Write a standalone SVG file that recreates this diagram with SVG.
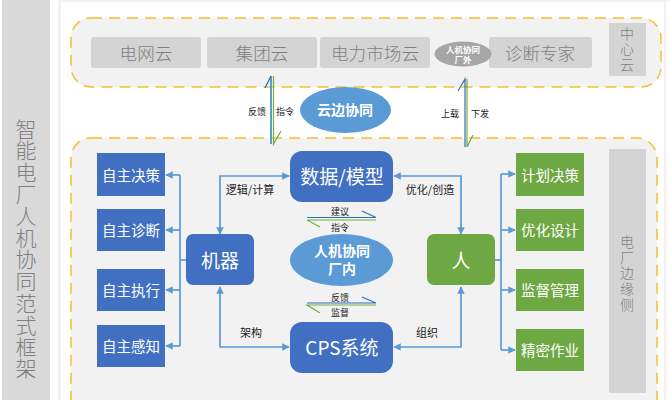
<svg xmlns="http://www.w3.org/2000/svg" width="669" height="400" viewBox="0 0 669 400">
<defs>
<marker id="ah" viewBox="0 0 10 10" refX="9" refY="5" markerWidth="9" markerHeight="7.5" markerUnits="userSpaceOnUse" orient="auto-start-reverse"><path d="M0 0L10 5L0 10Z" fill="#5b9bd5"/></marker>
</defs>
<style>
text{font-family:"Noto Sans CJK SC","Liberation Sans",sans-serif;text-anchor:middle;dominant-baseline:central}
.panel{fill:#f2f2f2;stroke:#f2c12e;stroke-width:1.5;stroke-dasharray:11 7}
.cloud{fill:#d4d4d4}
.gt{fill:#7f7f7f;font-size:17.600px;font-weight:300}
.v{writing-mode:vertical-rl;text-orientation:upright}
.side{fill:#d4d4d4}
.b{fill:#4170c2}.g{fill:#6ea843}
.wt{fill:#fff;font-size:14.500px}
.big{fill:#fff;font-size:19px}
.el{fill:#5b9bd5}
.lb{fill:#222;font-size:9px}
.lm{fill:#222;font-size:11px}
.c{fill:none;stroke:#5b9bd5;stroke-width:1.7}
.hb{fill:none;stroke:#4f93bd;stroke-width:1.8}
.hd{fill:none;stroke:#2f6fb5;stroke-width:1.2}
.hg{fill:none;stroke:#70ad47;stroke-width:1.2}
</style>
<rect width="669" height="400" fill="#fff"/>
<rect x="58" y="0" width="3" height="400" fill="#f2f2f2"/>
<rect x="61" y="0" width="608" height="2" fill="#f2f2f2"/>
<rect x="664" y="0" width="2" height="400" fill="#f2f2f2"/>
<g id="frame-label"><rect x="2" y="0" width="48" height="400" fill="#d9d9d9"/>
<text class="gt v" style="font-size:21px;letter-spacing:0.800px" x="26" y="249">智能电厂人机协同范式框架</text></g>
<g id="panel-cloud"><rect class="panel" x="71" y="18" width="590" height="69" rx="20"/></g>
<g id="panel-edge"><rect class="panel" x="71" y="138" width="586" height="280" rx="20"/></g>
<g id="dianwangyun"><rect class="cloud" x="91" y="37" width="110" height="31" rx="3"/><text class="gt" x="146" y="52">电网云</text></g>
<g id="jituanyun"><rect class="cloud" x="207" y="37" width="110" height="31" rx="3"/><text class="gt" x="262" y="52">集团云</text></g>
<g id="dianlishichang"><rect class="cloud" x="320" y="37" width="110" height="31" rx="3"/><text class="gt" x="375" y="52">电力市场云</text></g>
<g id="zhenduan"><rect class="cloud" x="489" y="37" width="103" height="31" rx="3"/><text class="gt" x="540" y="52">诊断专家</text></g>
<g id="changwai"><ellipse cx="463" cy="54" rx="28.500" ry="12.500" fill="#a6a6a6"/><text x="463" y="49" fill="#fff" font-size="8.500" font-weight="700">人机协同</text><text x="463" y="59" fill="#fff" font-size="8.500" font-weight="700">厂外</text></g>
<g id="center-cloud"><rect class="side" x="609" y="23" width="37" height="53"/><text class="gt v" style="font-size:14px;letter-spacing:1.700px" x="627" y="50">中心云</text></g>
<g id="yunbian"><ellipse class="el" cx="345.500" cy="110" rx="45.500" ry="23"/><text x="345" y="109" fill="#fff" font-size="14" font-weight="700">云边协同</text></g>
<g id="edge-side"><rect class="side" x="609" y="149" width="37" height="244"/><text class="gt v" style="font-size:14px;letter-spacing:1.700px" x="627" y="274">电厂边缘侧</text></g>
<g id="connectors">
<path class="c" d="M186 260H180"/>
<path class="c" d="M180 346V175"/>
<path class="c" d="M180 175H166" marker-end="url(#ah)"/>
<path class="c" d="M180 230H166" marker-end="url(#ah)"/>
<path class="c" d="M180 290H166" marker-end="url(#ah)"/>
<path class="c" d="M180 346H166" marker-end="url(#ah)"/>
<path class="c" d="M495 260H501"/>
<path class="c" d="M501 350V174"/>
<path class="c" d="M501 174H515" marker-end="url(#ah)"/>
<path class="c" d="M501 230H515" marker-end="url(#ah)"/>
<path class="c" d="M501 290H515" marker-end="url(#ah)"/>
<path class="c" d="M501 350H515" marker-end="url(#ah)"/>
<path class="c" d="M220 234V176H289" marker-start="url(#ah)" marker-end="url(#ah)"/>
<path class="c" d="M220 287V347H289" marker-start="url(#ah)" marker-end="url(#ah)"/>
<path class="c" d="M461 234V176H394" marker-start="url(#ah)" marker-end="url(#ah)"/>
<path class="c" d="M461 287V347H394" marker-start="url(#ah)" marker-end="url(#ah)"/>
<path class="hb" d="M271 144V76"/><path class="hd" d="M271 76L265 88"/>
<path class="hg" d="M273.500 76V144L281 131"/>
<path class="hd" d="M465 147V79L458 91"/>
<path class="hg" d="M467 79V147L473 135"/>
<path class="hd" d="M307 217.500H376L362 211"/>
<path class="hg" d="M376 220H307L320 227"/>
<path class="hd" d="M307 303H376L362 297"/>
<path class="hg" d="M376 305H307L320 313"/>
</g>
<g id="zizhu1"><rect class="b" x="97" y="153" width="68" height="43"/><text class="wt" x="131" y="174">自主决策</text></g>
<g id="zizhu2"><rect class="b" x="97" y="209" width="68" height="42"/><text class="wt" x="131" y="229">自主诊断</text></g>
<g id="zizhu3"><rect class="b" x="97" y="269" width="68" height="42"/><text class="wt" x="131" y="289">自主执行</text></g>
<g id="zizhu4"><rect class="b" x="97" y="325" width="68" height="42"/><text class="wt" x="131" y="345">自主感知</text></g>
<g id="jiqi"><rect class="b" x="186" y="234" width="68" height="51" rx="7"/><text class="big" x="220" y="259">机器</text></g>
<g id="shuju"><rect class="b" x="290" y="151" width="103" height="51" rx="12"/><text class="big" x="342" y="175">数据/模型</text></g>
<g id="cps"><rect class="b" x="290" y="322" width="103" height="51" rx="12"/><text class="big" x="342" y="346">CPS系统</text></g>
<g id="changnei"><ellipse class="el" cx="341.500" cy="260" rx="51.500" ry="26"/><text x="342" y="250" fill="#fff" font-size="14" font-weight="700">人机协同</text><text x="342" y="268" fill="#fff" font-size="14" font-weight="700">厂内</text></g>
<g id="ren"><rect class="g" x="427" y="234" width="68" height="51" rx="7"/><text class="big" x="461" y="259">人</text></g>
<g id="jihua"><rect class="g" x="516" y="153" width="68" height="43"/><text class="wt" x="550" y="174">计划决策</text></g>
<g id="youhua"><rect class="g" x="516" y="209" width="68" height="42"/><text class="wt" x="550" y="229">优化设计</text></g>
<g id="jiandu"><rect class="g" x="516" y="269" width="68" height="42"/><text class="wt" x="550" y="289">监督管理</text></g>
<g id="jingmi"><rect class="g" x="516" y="329" width="68" height="42"/><text class="wt" x="550" y="349">精密作业</text></g>
<g id="labels">
<text class="lb" x="257" y="111">反馈</text><text class="lb" x="285" y="111">指令</text>
<text class="lb" x="450" y="113">上载</text><text class="lb" x="480" y="113">下发</text>
<text class="lb" x="340" y="211">建议</text><text class="lb" x="340" y="227">指令</text>
<text class="lb" x="340" y="297">反馈</text><text class="lb" x="340" y="312">监督</text>
<text class="lm" x="250" y="189">逻辑/计算</text><text class="lm" x="430" y="189">优化/创造</text>
<text class="lm" x="251" y="332">架构</text><text class="lm" x="427" y="332">组织</text>
</g>
</svg>
